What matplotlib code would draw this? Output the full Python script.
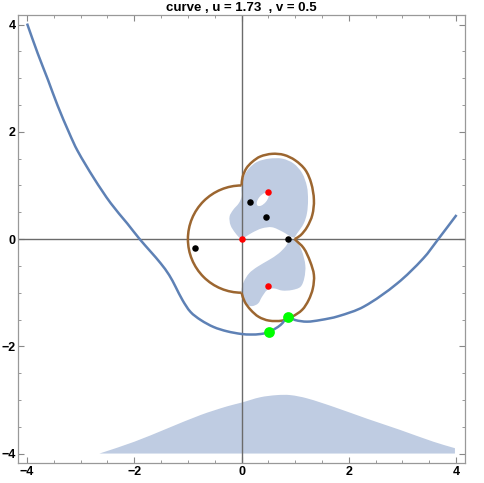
import matplotlib.pyplot as plt
import numpy as np
from matplotlib.patches import Arc, Ellipse, PathPatch
from matplotlib.path import Path

plt.rcParams["font.family"] = ["Liberation Sans", "DejaVu Sans"]

# blue curve
curve_x = [-4.0, -3.80, -3.61, -3.43, -3.21, -3.06, -2.75, -2.44, -2.13, -1.90, -1.69,
           -1.51, -1.35, -1.23, -1.10, -0.95, -0.76, -0.52, -0.27, 0.0, 0.17, 0.36, 0.52,
           0.73, 0.87, 1.0, 1.22, 1.47, 1.8, 2.28, 2.9, 3.39, 3.67, 4.01]
curve_y = [4.02, 3.46, 2.97, 2.49, 1.97, 1.65, 1.13, 0.67, 0.29, 0.0, -0.24,
           -0.45, -0.67, -0.89, -1.14, -1.36, -1.51, -1.64, -1.72, -1.77, -1.78, -1.77, -1.73,
           -1.6, -1.45, -1.51, -1.54, -1.51, -1.44, -1.26, -0.83, -0.36, 0.0, 0.45]

# brown closed curve: left half circle + two lobes on the right
arc_radius = 1.0
upper_lobe_x = [0.0, 0.02, 0.09, 0.2, 0.35, 0.57, 0.79, 1.0, 1.19, 1.3, 1.35, 1.32, 1.22, 1.1, 0.99]
upper_lobe_y = [1.0, 1.16, 1.32, 1.44, 1.54, 1.59, 1.57, 1.47, 1.29, 1.04, 0.73, 0.45, 0.22, 0.07, 0.0]
lower_lobe_x = [0.99, 1.16, 1.28, 1.35, 1.33, 1.25, 1.13, 0.94, 0.76, 0.51, 0.32, 0.17, 0.06, 0.0]
lower_lobe_y = [0.0, -0.17, -0.42, -0.67, -0.92, -1.14, -1.32, -1.45, -1.52, -1.52, -1.45, -1.32, -1.17, -1.0]

# shaded region, two blobs
upper_blob_x = [0.0, -0.11, -0.205, -0.223, -0.16, -0.05, 0.0, 0.0, 0.04, 0.14, 0.29, 0.51,
                0.76, 0.97, 1.13, 1.22, 1.24, 1.22, 1.16, 1.04, 0.97, 0.76, 0.57, 0.38, 0.2, 0.07]
upper_blob_y = [0.0, 0.106, 0.26, 0.42, 0.54, 0.67, 0.79, 0.97, 1.16, 1.32, 1.44, 1.5,
                1.5, 1.41, 1.23, 0.98, 0.73, 0.48, 0.29, 0.11, 0.03, 0.14, 0.22, 0.2, 0.12, 0.04]
lower_blob_x = [1.0, 1.12, 1.19, 1.17, 1.1, 0.94, 0.76, 0.6, 0.48, 0.38, 0.31, 0.2, 0.09,
                0.01, 0.0, 0.04, 0.14, 0.29, 0.51, 0.69, 0.82, 0.89]
lower_blob_y = [-0.01, -0.21, -0.49, -0.73, -0.89, -0.95, -0.96, -0.92, -0.95, -1.08, -1.2,
                -1.25, -1.22, -1.11, -0.95, -0.8, -0.64, -0.52, -0.39, -0.27, -0.14, -0.04]
hole_center = (0.395, 0.74)
hole_size = (0.3, 0.15)
hole_angle = 50

# bump at the bottom
bump_x = [-2.65, -2.0, -1.38, -0.76, -0.27, 0.0, 0.35, 0.66, 0.91, 1.22, 1.72, 2.34, 2.96, 3.58, 3.98]
bump_y = [-4.0, -3.78, -3.53, -3.28, -3.12, -3.05, -2.95, -2.91, -2.91, -2.97, -3.13, -3.35, -3.56, -3.78, -3.9]
bump_base = -4.0

red_x = [0.0, 0.5, 0.5]
red_y = [0.0, 0.87, -0.87]
black_x = [0.15, 0.45, 0.87, -0.86]
black_y = [0.70, 0.42, 0.0, -0.17]
green_x = [0.52, 0.87]
green_y = [-1.73, -1.45]

BLUE = "#5e81b5"
BROWN = "#9c6630"
FILL = "#bfcce2"


def smooth_path(xs, ys, closed=False, base=None):
    # bezier path through the read points, tangents scaled by chord length
    p = np.column_stack([xs, ys]).astype(float)
    n = len(p)
    if closed:
        prev = np.roll(p, 1, axis=0)
        nxt = np.roll(p, -1, axis=0)
    else:
        prev = np.vstack([p[0], p[:-1]])
        nxt = np.vstack([p[1:], p[-1]])
    d_prev = np.linalg.norm(p - prev, axis=1)
    d_next = np.linalg.norm(nxt - p, axis=1)
    tang = (nxt - prev) / np.maximum(d_prev + d_next, 1e-9)[:, None]
    verts = [p[0]]
    codes = [Path.MOVETO]
    segs = n if closed else n - 1
    for i in range(segs):
        j = (i + 1) % n
        d = np.linalg.norm(p[j] - p[i]) / 3.0
        verts += [p[i] + tang[i] * d, p[j] - tang[j] * d, p[j]]
        codes += [Path.CURVE4] * 3
    if base is not None:
        verts += [(p[-1][0], base), (p[0][0], base), p[0]]
        codes += [Path.LINETO, Path.LINETO, Path.CLOSEPOLY]
    elif closed:
        verts.append(p[0])
        codes.append(Path.CLOSEPOLY)
    return Path(verts, codes)


fig = plt.figure(figsize=(4.85, 4.83), dpi=100)
ax = fig.add_axes([0.037, 0.041, 0.922, 0.928])

ax.add_patch(PathPatch(smooth_path(bump_x, bump_y, base=bump_base),
                       facecolor=FILL, edgecolor="none", zorder=1))
ax.add_patch(PathPatch(smooth_path(upper_blob_x, upper_blob_y, closed=True),
                       facecolor=FILL, edgecolor="none", zorder=1))
ax.add_patch(PathPatch(smooth_path(lower_blob_x, lower_blob_y, closed=True),
                       facecolor=FILL, edgecolor="none", zorder=1))
ax.add_patch(Ellipse(hole_center, hole_size[0], hole_size[1], angle=hole_angle,
                     facecolor="white", edgecolor="none", zorder=1.5))

ax.axhline(0, color="#6b6b6b", lw=1.0, zorder=2)
ax.axvline(0, color="#6b6b6b", lw=1.0, zorder=2)

ax.add_patch(Arc((0, 0), 2 * arc_radius, 2 * arc_radius, theta1=90, theta2=270,
                 color=BROWN, lw=1.8, zorder=3))
for lx, ly in [(upper_lobe_x, upper_lobe_y), (lower_lobe_x, lower_lobe_y)]:
    ax.add_patch(PathPatch(smooth_path(lx, ly), facecolor="none", edgecolor=BROWN,
                           lw=1.8, zorder=3))

ax.add_patch(PathPatch(smooth_path(curve_x, curve_y), facecolor="none", edgecolor=BLUE,
                       lw=1.8, zorder=4))

ax.scatter(red_x, red_y, s=22, color="#ff0000", zorder=5, linewidths=0)
ax.scatter(black_x, black_y, s=22, color="black", zorder=5, linewidths=0)
ax.scatter(green_x, green_y, s=60, color="#00ff00", zorder=6, linewidths=0)

ax.set_xlim(-4.17, 4.17)
ax.set_ylim(-4.18, 4.18)
ax.set_xticks([-4, -2, 0, 2, 4])
ax.set_yticks([-4, -2, 0, 2, 4])
ax.set_xticks(np.arange(-4, 4.01, 0.5), minor=True)
ax.set_yticks(np.arange(-4, 4.01, 0.5), minor=True)
ax.set_xticklabels(["\u22124", "\u22122", "0", "2", "4"], fontweight="bold", fontsize=9)
ax.set_yticklabels(["\u22124", "\u22122", "0", "2", "4"], fontweight="bold", fontsize=9)
ax.tick_params(which="both", direction="in", top=True, right=True, color="#888888", pad=2)
ax.tick_params(axis="y", pad=1.5)
ax.tick_params(which="major", length=4, width=0.8)
ax.tick_params(which="minor", length=2.5, width=0.6)
for sp in ax.spines.values():
    sp.set_color("#999999")
    sp.set_linewidth(0.9)

ax.set_title("curve , u = 1.73  , v = 0.5", fontsize=9.5, fontweight="bold", pad=3)

fig.savefig("out.png", dpi=100)
